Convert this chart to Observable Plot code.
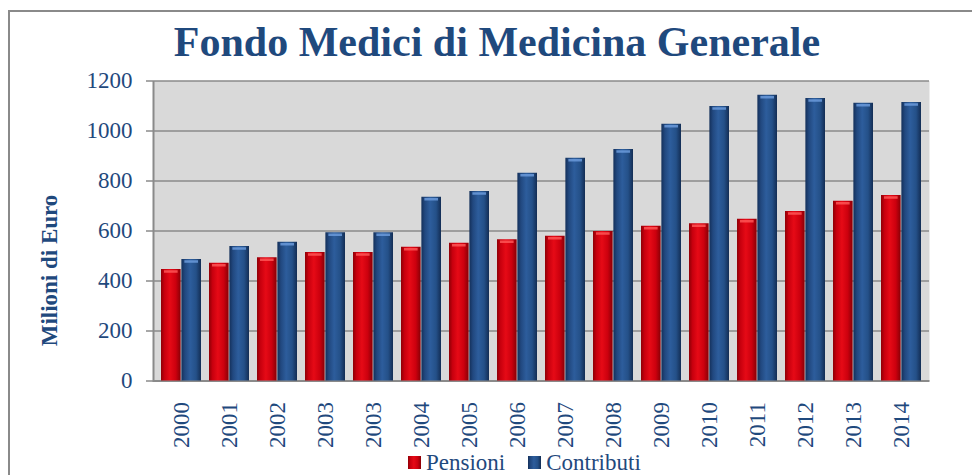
<!DOCTYPE html>
<html>
<head>
<meta charset="utf-8">
<script src="https://cdn.jsdelivr.net/npm/d3@7"></script>
<script src="https://cdn.jsdelivr.net/npm/@observablehq/plot@0.6"></script>
<style>
  html, body { margin: 0; padding: 0; background: #fff; }
  body { width: 972px; height: 475px; overflow: hidden; position: relative; font-family: "Liberation Serif", "DejaVu Serif", serif; }
  #border { position: absolute; left: 8px; top: 10px; width: 1000px; height: 500px; border-left: 2px solid #8a8a8a; border-top: 2px solid #8a8a8a; box-sizing: border-box; }
  #title { position: absolute; left: 0; top: 0; width: 994px; height: 68px; line-height: 68px; padding-top: 8px; box-sizing: border-box; text-align: center; font-family: "Liberation Serif", serif; font-weight: bold; font-size: 42px; color: #1f497d; white-space: nowrap; }
  #chart { position: absolute; left: 0; top: 68px; }
  #chart svg, #chart svg text { font-family: "Liberation Serif", serif !important; }
  #legend { position: absolute; left: 408px; top: 446px; }
  #legend, #legend * { font-family: "Liberation Serif", serif !important; font-size: 23px !important; color: #1f497d !important; }
  .lg-swatch { margin-right: 23px !important; }
  .lg-swatch > svg { margin-right: 5px !important; }
</style>
</head>
<body>
<svg width="0" height="0" style="position:absolute">
  <defs>
    <linearGradient id="gRed" x1="0" x2="1" y1="0" y2="0">
      <stop offset="0" stop-color="#8e0006"/>
      <stop offset="0.18" stop-color="#c8000e"/>
      <stop offset="0.45" stop-color="#e60a16"/>
      <stop offset="0.75" stop-color="#cc000e"/>
      <stop offset="1" stop-color="#880006"/>
    </linearGradient>
    <linearGradient id="gBlue" x1="0" x2="1" y1="0" y2="0">
      <stop offset="0" stop-color="#14305a"/>
      <stop offset="0.18" stop-color="#21487f"/>
      <stop offset="0.45" stop-color="#2d5d9c"/>
      <stop offset="0.75" stop-color="#245088"/>
      <stop offset="1" stop-color="#132d54"/>
    </linearGradient>
  </defs>
</svg>
<div id="border"></div>
<div id="title">Fondo Medici di Medicina Generale</div>
<div id="chart"></div>
<div id="legend"></div>
<script>
const years = ["2000","2001","2002","2003","2003","2004","2005","2006","2007","2008","2009","2010","2011","2012","2013","2014"];
const pensioni   = [446, 471, 493, 514, 514, 535, 551, 565, 579, 598, 619, 629, 647, 678, 719, 742];
const contributi = [486, 538, 555, 593, 593, 735, 758, 831, 891, 926, 1027, 1098, 1143, 1130, 1111, 1114];
const seriesNames = ["Pensioni", "Contributi"];
const yTicks = [0, 200, 400, 600, 800, 1000, 1200];

const keys = years.map((_, i) => i);
const rowsP = years.map((y, i) => ({k: i, year: y, series: seriesNames[0], value: pensioni[i]}));
const rowsC = years.map((y, i) => ({k: i, year: y, series: seriesNames[1], value: contributi[i]}));

const textColor = "#1f497d";
const gridColor = "#8a8a8a";
const font = "Liberation Serif";

const width = 972, height = 385;
const marginLeft = 153, marginRight = 43, marginTop = 12.5, marginBottom = 72.5;
const W = width - marginLeft - marginRight;
const H = height - marginTop - marginBottom;
const padInner = 0.16;
const step = W / keys.length;
const half = step * (1 - padInner) / 2;

const colorScale = {domain: seriesNames, range: ["url(#gRed)", "url(#gBlue)"]};

const plot = Plot.plot({
  width, height, marginLeft, marginRight, marginTop, marginBottom,
  style: {fontFamily: font, background: "transparent", overflow: "visible"},
  x: {type: "band", domain: keys, paddingInner: padInner, paddingOuter: padInner / 2, axis: null},
  y: {domain: [0, 1200], axis: null},
  color: colorScale,
  marks: [
    Plot.frame({fill: "#d9d9d9", stroke: "none"}),
    Plot.gridY(yTicks, {stroke: gridColor, strokeOpacity: 1, strokeWidth: 1.5}),
    Plot.frame({fill: "none", stroke: gridColor, strokeWidth: 2, strokeDasharray: `0 ${W + H} ${W + H}`}),
    Plot.barY(rowsP, {x: "k", y: "value", fill: "series", insetRight: half}),
    Plot.barY(rowsC, {x: "k", y: "value", fill: "series", insetLeft: half}),
    Plot.tickY(rowsP, {x: "k", y: "value", stroke: "#ff5a5a", strokeWidth: 2.5, strokeOpacity: 0.8, insetRight: half + 3, insetLeft: 3, dy: 2}),
    Plot.tickY(rowsC, {x: "k", y: "value", stroke: "#6f9fe0", strokeWidth: 2.5, strokeOpacity: 0.8, insetLeft: half + 3, insetRight: 3, dy: 2}),
    Plot.axisY(yTicks, {tickSize: 7, tickPadding: 14, tickFormat: d => String(d), stroke: gridColor, strokeWidth: 1.5, fill: textColor, fontSize: 23, fontFamily: font, label: null}),
    Plot.axisX(keys, {tickSize: 0, tickPadding: 21, tickRotate: -90, tickFormat: i => years[i], fill: textColor, fontSize: 23, fontFamily: font, label: null}),
    Plot.text(["Milioni di Euro"], {frameAnchor: "left", textAnchor: "middle", rotate: -90, dx: -104, dy: 39.5, fill: textColor, fontSize: 23, fontWeight: "bold", fontFamily: font})
  ]
});
document.getElementById("chart").appendChild(plot);

const legend = plot.legend("color", {
  legend: "swatches",
  swatchSize: 13,
  className: "lg",
  style: {fontFamily: font, fontSize: "23px", color: textColor}
});
document.getElementById("legend").appendChild(legend);
</script>
</body>
</html>
